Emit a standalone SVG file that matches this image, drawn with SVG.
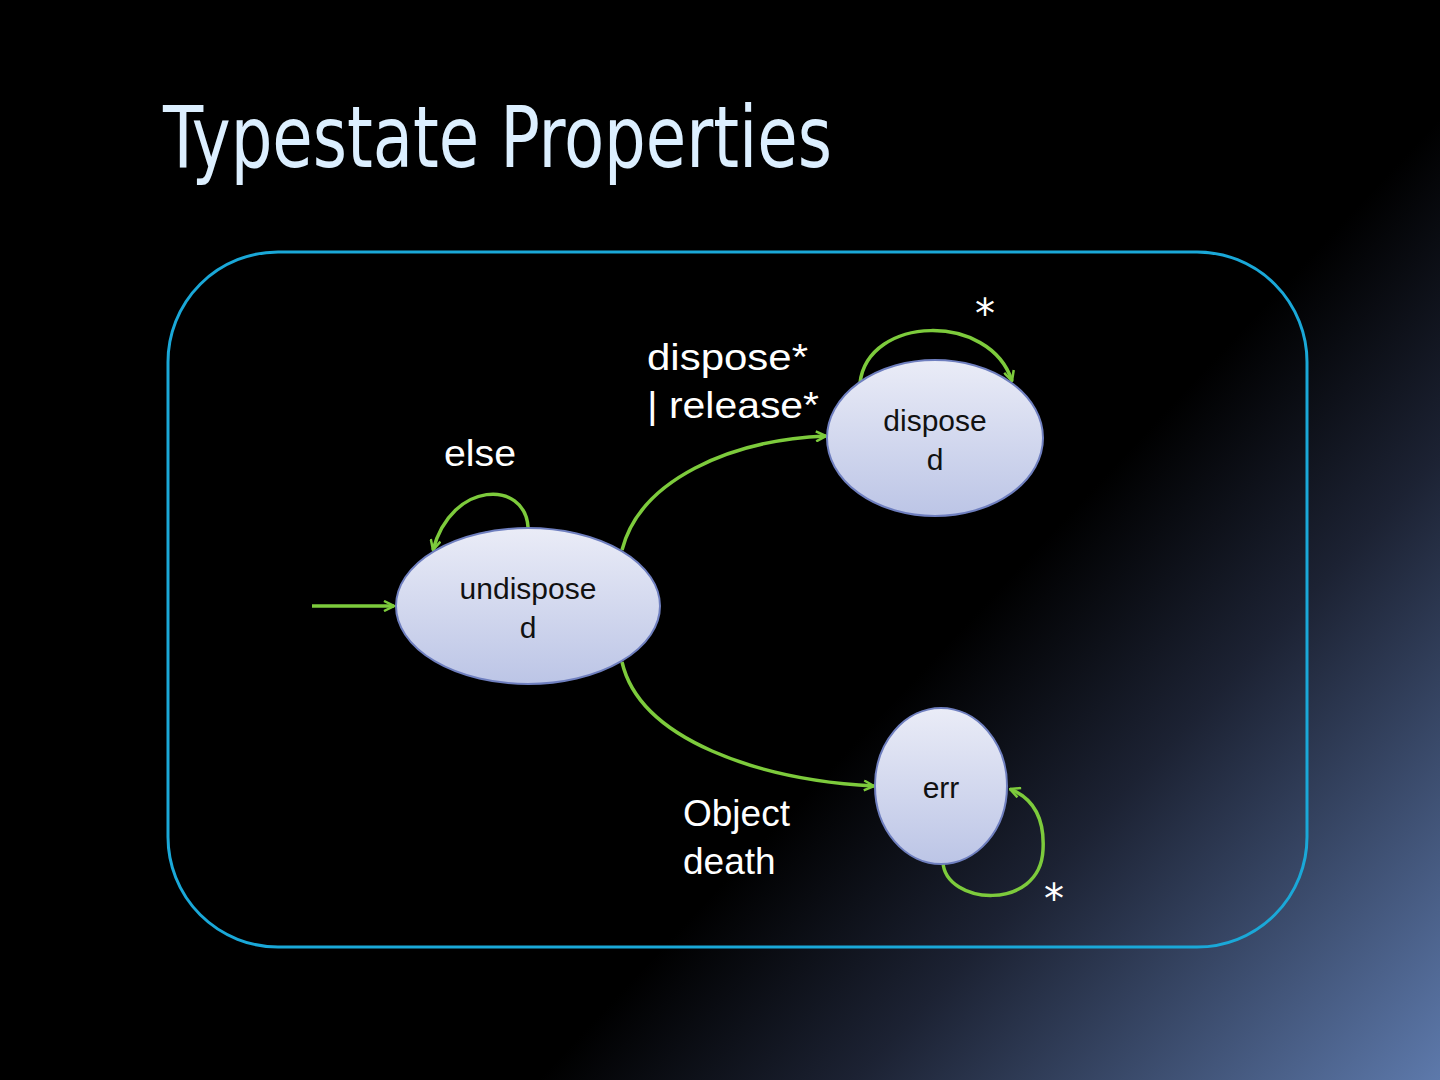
<svg xmlns="http://www.w3.org/2000/svg" width="1440" height="1080" viewBox="0 0 1440 1080">
<defs>
<linearGradient id="bg" gradientUnits="userSpaceOnUse" x1="960" y1="630" x2="1440" y2="1080">
<stop offset="0" stop-color="#000000"/>
<stop offset="0.35" stop-color="#1c2233"/>
<stop offset="1" stop-color="#5d79ab"/>
</linearGradient>
<linearGradient id="nodefill" x1="0" y1="0" x2="0" y2="1">
<stop offset="0" stop-color="#eaecf7"/>
<stop offset="1" stop-color="#bcc5e6"/>
</linearGradient>
<marker id="arr" viewBox="0 0 12 12" refX="11" refY="6" markerWidth="12" markerHeight="12" markerUnits="userSpaceOnUse" orient="auto">
<path d="M1,1 L11,6 L1,11" fill="none" stroke="#7dcb3c" stroke-width="2.5"/>
</marker>
<style>
.node{fill:url(#nodefill);stroke:#6f7fbf;stroke-width:2}
.nt{font-family:"Liberation Sans",Arial,sans-serif;font-size:30px;fill:#111;text-anchor:middle}
.edge{fill:none;stroke:#7dcb3c;stroke-width:3.5;marker-end:url(#arr)}
.lbl{font-family:"Liberation Sans",Arial,sans-serif;font-size:37px;fill:#ffffff}
.star{font-family:"DejaVu Sans",sans-serif;font-size:40px;fill:#ffffff;text-anchor:middle}
</style>
</defs>
<rect x="0" y="0" width="1440" height="1080" fill="url(#bg)"/>
<text x="163" y="167" font-family="'DejaVu Sans Condensed','DejaVu Sans',sans-serif" font-size="86" fill="#dcefff" textLength="669" lengthAdjust="spacingAndGlyphs">Typestate Properties</text>
<rect x="168" y="252" width="1139" height="695" rx="110" ry="110" fill="none" stroke="#1aa8d8" stroke-width="3"/>
<g id="connectors">
<path class="edge" d="M312,606 L394,606"/>
<path class="edge" d="M528,527 C525,480 452,480 433,550"/>
<path class="edge" d="M622,550 C640,480 730,440 826,436"/>
<path class="edge" d="M622,662 C640,740 760,780 874,786"/>
<path class="edge" d="M860,383 C868,315 990,312 1012,381"/>
<path class="edge" d="M943,862 C945,905 1040,912 1043,850 C1045,815 1030,797 1010,789"/>
</g>
<g id="undisposed">
<ellipse class="node" cx="528" cy="606" rx="132" ry="78"/>
<text class="nt" x="528" y="599">undispose</text>
<text class="nt" x="528" y="638">d</text>
</g>
<g id="disposed">
<ellipse class="node" cx="935" cy="438" rx="108" ry="78"/>
<text class="nt" x="935" y="431">dispose</text>
<text class="nt" x="935" y="470">d</text>
</g>
<g id="err">
<ellipse class="node" cx="941" cy="786" rx="66" ry="78"/>
<text class="nt" x="941" y="798">err</text>
</g>
<g id="labels">
<text class="lbl" x="647" y="370" textLength="161" lengthAdjust="spacingAndGlyphs">dispose*</text>
<text class="lbl" x="647" y="418" textLength="172" lengthAdjust="spacingAndGlyphs">| release*</text>
<text class="lbl" x="444" y="466" textLength="72" lengthAdjust="spacingAndGlyphs">else</text>
<text class="star" x="985" y="328">*</text>
<text class="lbl" x="683" y="826">Object</text>
<text class="lbl" x="683" y="874">death</text>
<text class="star" x="1054" y="913">*</text>
</g>
</svg>
